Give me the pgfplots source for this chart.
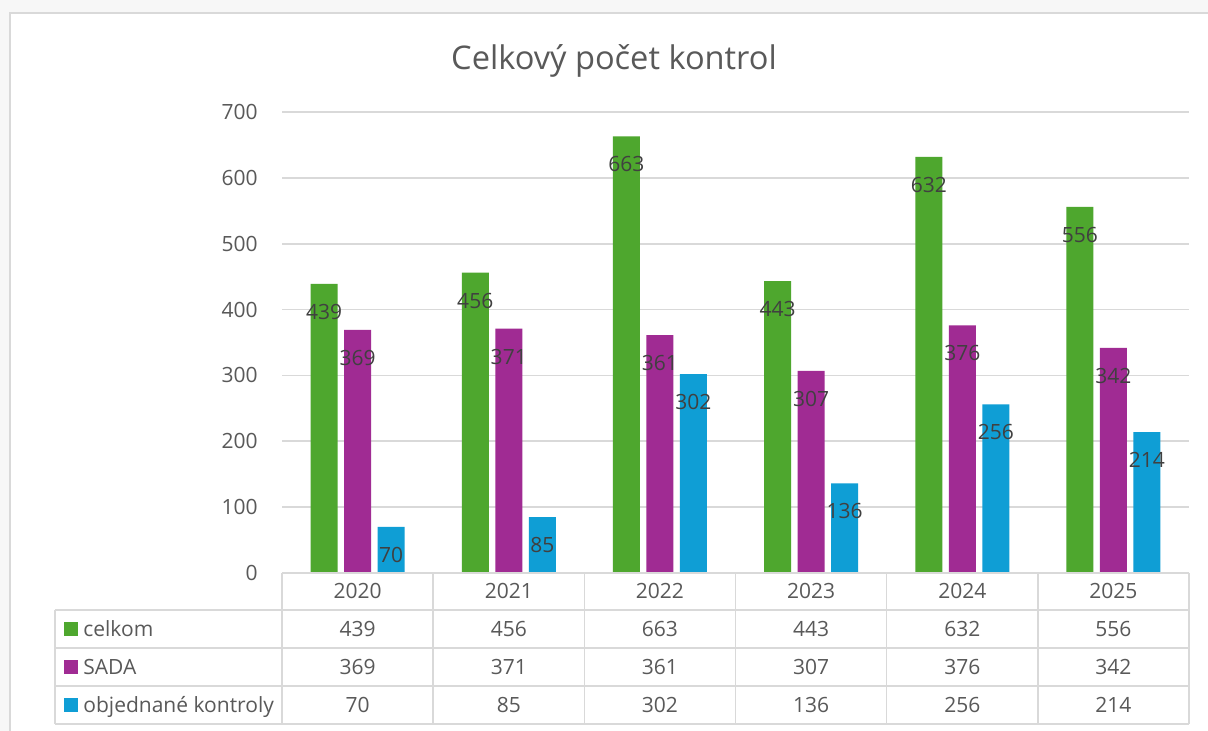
\documentclass[border=0pt]{standalone}
\usepackage{pgfplots}
\pgfplotsset{compat=1.18}
\usepackage{fontspec}
\setmainfont{Open Sans}
\definecolor{cgreen}{HTML}{4EA72E}
\definecolor{cpurple}{HTML}{A02B93}
\definecolor{cblue}{HTML}{0F9ED5}
\definecolor{txt}{HTML}{595959}
\definecolor{lbl}{HTML}{404040}
\definecolor{gridc}{HTML}{D9D9D9}
\definecolor{bgc}{HTML}{F7F7F7}
\newcommand{\tfont}{\fontsize{10.5}{12}\selectfont}
\begin{document}
\begin{tikzpicture}[cell/.style={inner sep=0pt, text height=7.5pt, text depth=0pt, font=\tfont, text=txt}]
\useasboundingbox (0,0) rectangle (604pt,365.5pt);
\fill[bgc] (0,0) rectangle (604pt,365.5pt);
% pixel frame: origin top left, 1px = 0.5pt
\begin{scope}[x=0.5pt,y=-0.5pt,yshift=365.5pt]
  \filldraw[fill=white, draw=gridc, line width=0.8pt] (10,13) rectangle (1220,745);
  \node[text=txt, font=\fontsize{16.3}{19}\selectfont] at (614,61) {Celkový počet kontrol};
\end{scope}
\begin{axis}[
    at={(141pt,79pt)}, anchor=south west,
    scale only axis, width=453.5pt, height=230.5pt,
    ybar=3.25pt, bar width=13.5pt,
    xmin=-0.5, xmax=5.5, ymin=0, ymax=700,
    xtick=\empty, ytick={0,100,...,700},
    ymajorgrids, grid style={draw=gridc, line width=0.8pt},
    axis line style={draw=none}, major tick style={draw=none},
    yticklabel style={font=\tfont, text=txt, inner sep=0pt, anchor=east, xshift=-12pt},
    /pgf/number format/assume math mode=true,
    clip=false,
    nodes near coords,
    every node near coord/.append style={anchor=center, yshift=-14pt, inner sep=0pt,
      text height=7.5pt, text depth=0pt, font=\tfont, text=lbl},
  ]
  \addplot[fill=cgreen, draw=none] coordinates {(0,439) (1,456) (2,663) (3,443) (4,632) (5,556)};
  \addplot[fill=cpurple, draw=none] coordinates {(0,369) (1,371) (2,361) (3,307) (4,376) (5,342)};
  \addplot[fill=cblue, draw=none] coordinates {(0,70) (1,85) (2,302) (3,136) (4,256) (5,214)};
\end{axis}
\begin{scope}[x=0.5pt,y=-0.5pt,yshift=365.5pt]
  % data table
  \draw[gridc, line width=0.8pt] (282,573) -- (1189,573);
  \foreach \y in {610,648,686,724} \draw[gridc, line width=0.8pt] (55,\y) -- (1189,\y);
  \foreach \k in {0,...,6} \draw[gridc, line width=0.8pt] (282+151.17*\k,573) -- (282+151.17*\k,724);
  \draw[gridc, line width=0.8pt] (55,610) -- (55,724);
  \foreach \yr [count=\k from 0] in {2020,2021,2022,2023,2024,2025}
    \node[cell] at (282+151.17*\k+75.6,591.5) {\yr};
  \foreach \v [count=\k from 0] in {439,456,663,443,632,556}
    \node[cell] at (282+151.17*\k+75.6,629) {\v};
  \foreach \v [count=\k from 0] in {369,371,361,307,376,342}
    \node[cell] at (282+151.17*\k+75.6,667) {\v};
  \foreach \v [count=\k from 0] in {70,85,302,136,256,214}
    \node[cell] at (282+151.17*\k+75.6,705) {\v};
  \fill[cgreen] (64,622) rectangle (78,636);
  \fill[cpurple] (64,660) rectangle (78,674);
  \fill[cblue] (64,698) rectangle (78,712);
  \node[cell, anchor=west] at (83,629) {celkom};
  \node[cell, anchor=west] at (83,667) {SADA};
  \node[cell, anchor=west] at (83,705) {objednané kontroly};
\end{scope}
\end{tikzpicture}
\end{document}
